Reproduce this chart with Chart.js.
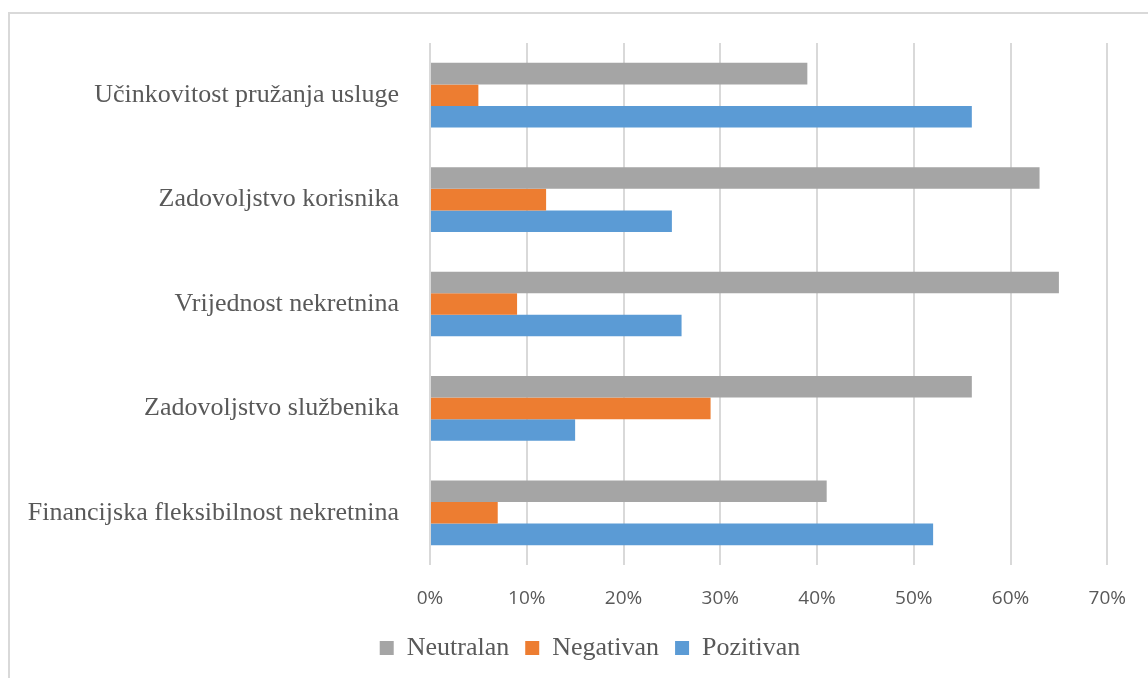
<!DOCTYPE html>
<html lang="hr">
<head>
    <meta charset="UTF-8">
    <title>Bar Chart</title>
    <style>
        body {
          margin: 0;
          background: #ffffff;
          overflow: hidden;
        }
        #frame {
          position: absolute;
          left: 8px;
          top: 12px;
          width: 1200px;
          height: 720px;
          border: 2px solid #d9d9d9;
        }
        #wrap {
          position: absolute;
          left: 0;
          top: 0;
          width: 1148px;
          height: 678px;
        }
    </style>
    <script src="https://cdn.jsdelivr.net/npm/chart.js"></script>
</head>
<body>
  <div id="frame"></div>
  <div id="wrap"><canvas id="chart"></canvas></div>
  <script>
    // categories, top to bottom
    const categories = [
      'Učinkovitost pružanja usluge',
      'Zadovoljstvo korisnika',
      'Vrijednost nekretnina',
      'Zadovoljstvo službenika',
      'Financijska fleksibilnost nekretnina'
    ];
    // values in percent
    const neutralan = [39, 63, 65, 56, 41];
    const negativan = [5, 12, 9, 29, 7];
    const pozitivan = [56, 25, 26, 15, 52];
    const xTicks = [0, 10, 20, 30, 40, 50, 60, 70];

    const serif = '"Liberation Serif", "Times New Roman", serif';

    // the original legend sits a bit right of the centre
    const shiftLegend = {
        id: 'shiftLegend',
        afterLayout(chart) {
            chart.legend.left += 35;
            chart.legend.right += 35;
        }
    };

    const ctx = document.getElementById('chart').getContext('2d');
    const chart = new Chart(ctx, {
        type: 'bar',
        data: {
            labels: categories,
            datasets: [
              { label: 'Neutralan', data: neutralan, backgroundColor: '#a5a5a5' },
              { label: 'Negativan', data: negativan, backgroundColor: '#ed7d31' },
              { label: 'Pozitivan', data: pozitivan, backgroundColor: '#5b9bd5' }
            ]
        },
        plugins: [shiftLegend],
        options: {
            indexAxis: 'y',
            responsive: true,
            maintainAspectRatio: false,
            animation: false,
            categoryPercentage: 0.62,
            barPercentage: 1.0,
            layout: { padding: { top: 43, right: 38, bottom: 7, left: 0 } },
            plugins: {
                legend: {
                    position: 'bottom',
                    labels: {
                        font: { family: serif, size: 26 },
                        color: '#595959',
                        boxWidth: 14,
                        boxHeight: 14,
                        padding: 16
                    }
                },
                tooltip: { enabled: false }
            },
            scales: {
                x: {
                    min: 0,
                    max: 70,
                    afterBuildTicks: (s) => { s.ticks = xTicks.map(v => ({ value: v })); },
                    grid: { color: '#d9d9d9', lineWidth: 2, drawTicks: false },
                    border: { display: false },
                    ticks: {
                        callback: (v) => v + '%',
                        font: { family: '"Open Sans", sans-serif', size: 19 },
                        color: '#595959',
                        padding: 22
                    },
                    afterFit: (s) => { s.height = 54; }
                },
                y: {
                    grid: { display: false },
                    border: { display: false },
                    ticks: {
                        font: { family: serif, size: 26 },
                        color: '#595959',
                        padding: 23
                    },
                    afterFit: (s) => { s.width = 430; }
                }
            }
        }
    });
  </script>
</body>
</html>
